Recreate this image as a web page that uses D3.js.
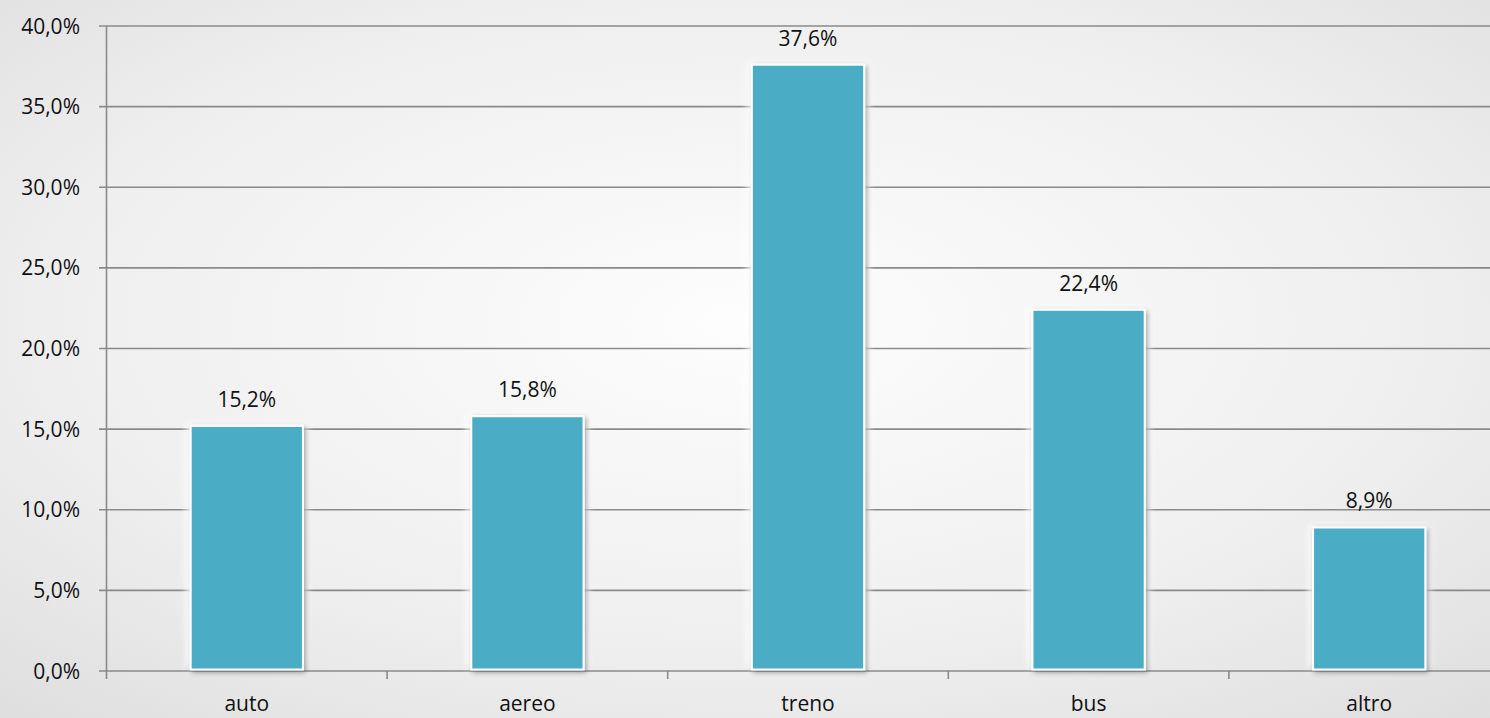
<!DOCTYPE html>
<html>
<head>
<meta charset="utf-8">
<script src="https://cdn.jsdelivr.net/npm/d3@7"></script>
<style>
  html, body { margin: 0; padding: 0; background: #fff; }
  svg { display: block; }
  text { font-family: "Open Sans", "Noto Sans", sans-serif; fill: #111; }
</style>
</head>
<body>
<svg id="chart" width="1490" height="718"></svg>
<script>
// Mode of transport shares (%)
const categories = ["auto", "aereo", "treno", "bus", "altro"];
const shares = [15.2, 15.8, 37.6, 22.4, 8.9];
const yTicks = [0, 5, 10, 15, 20, 25, 30, 35, 40];

const W = 1490, H = 718;
const svg = d3.select("#chart");
const defs = svg.append("defs");

// soft radial backdrop
const bg = defs.append("radialGradient").attr("id", "bg")
  .attr("cx", "50%").attr("cy", "45%").attr("r", "75%");
bg.append("stop").attr("offset", "0%").attr("stop-color", "#fdfdfd");
bg.append("stop").attr("offset", "60%").attr("stop-color", "#efefef");
bg.append("stop").attr("offset", "100%").attr("stop-color", "#dedede");
svg.append("rect").attr("width", W).attr("height", H).attr("fill", "url(#bg)");

// bar shadow
const sh = defs.append("filter").attr("id", "shadow")
  .attr("x", "-20%").attr("y", "-10%").attr("width", "140%").attr("height", "120%");
sh.append("feDropShadow").attr("dx", 2).attr("dy", 2).attr("stdDeviation", 2.5)
  .attr("flood-color", "#000").attr("flood-opacity", 0.35);

// pale halo around bars
const glow = defs.append("filter").attr("id", "glow")
  .attr("x", "-30%").attr("y", "-10%").attr("width", "160%").attr("height", "120%");
glow.append("feGaussianBlur").attr("stdDeviation", 3);

const left = 106.5, bandW = 280.6;
const x = d3.scaleBand().domain(categories)
  .range([left, left + bandW * categories.length]).paddingInner(0).paddingOuter(0);
const y = d3.scaleLinear().domain([0, 40]).range([671, 26]);
const fmt = v => d3.format(".1f")(v).replace(".", ",") + "%";
const barW = bandW * 0.4;

// horizontal gridlines with left tick stubs
svg.append("g").selectAll("line").data(yTicks).join("line")
  .attr("x1", 99).attr("x2", W)
  .attr("y1", d => y(d)).attr("y2", d => y(d))
  .attr("stroke", "#8a8a8a").attr("stroke-width", 1.6);

// y axis line
svg.append("line").attr("x1", left).attr("x2", left)
  .attr("y1", y(40)).attr("y2", y(0) + 8)
  .attr("stroke", "#8a8a8a").attr("stroke-width", 1.6);

// category tick marks below the baseline
svg.append("g").selectAll("line").data(categories.slice(1)).join("line")
  .attr("x1", d => x(d)).attr("x2", d => x(d))
  .attr("y1", y(0)).attr("y2", y(0) + 8)
  .attr("stroke", "#8a8a8a").attr("stroke-width", 1.6);

// y tick labels
svg.append("g").selectAll("text").data(yTicks).join("text")
  .attr("x", 80).attr("y", d => y(d) + 7.5)
  .attr("text-anchor", "end").attr("font-size", 21)
  .text(d => fmt(d));

// halo behind bars
svg.append("g").selectAll("rect").data(categories).join("rect")
  .attr("x", d => x(d) + (bandW - barW) / 2 - 5)
  .attr("y", (d, i) => y(shares[i]) - 2)
  .attr("width", barW + 10)
  .attr("height", (d, i) => y(0) - 2 - y(shares[i]))
  .attr("fill", "#ffffff").attr("opacity", 0.8)
  .attr("filter", "url(#glow)");

// bars
svg.append("g").selectAll("rect").data(categories).join("rect")
  .attr("x", d => x(d) + (bandW - barW) / 2)
  .attr("y", (d, i) => y(shares[i]))
  .attr("width", barW)
  .attr("height", (d, i) => y(0) - 1.5 - y(shares[i]))
  .attr("fill", "#4bacc6")
  .attr("stroke", "#ffffff").attr("stroke-width", 2)
  .attr("filter", "url(#shadow)");

// value labels
svg.append("g").selectAll("text").data(categories).join("text")
  .attr("x", d => x(d) + bandW / 2)
  .attr("y", (d, i) => y(shares[i]) - 19)
  .attr("text-anchor", "middle").attr("font-size", 21)
  .text((d, i) => fmt(shares[i]));

// category labels
svg.append("g").selectAll("text").data(categories).join("text")
  .attr("x", d => x(d) + bandW / 2)
  .attr("y", 711)
  .attr("text-anchor", "middle").attr("font-size", 21)
  .text(d => d);
</script>
</body>
</html>
